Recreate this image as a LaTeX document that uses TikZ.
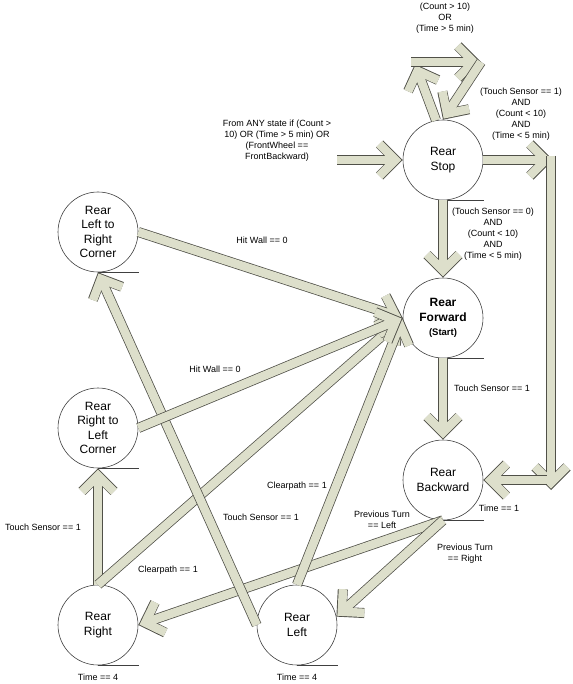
\documentclass[tikz,border=0pt]{standalone}
\usepackage{fontspec}
\setmainfont{Liberation Sans}
\usetikzlibrary{arrows.meta}
\definecolor{arrowfill}{RGB}{221,223,203}
\definecolor{arrowedge}{RGB}{80,80,72}

\begin{document}
\begin{tikzpicture}[x=1pt, y=-1pt, line cap=butt, line join=miter,
  state/.style={circle, draw=black!75, line width=0.6pt, minimum size=80pt, inner sep=0pt,
    align=center, font=\fontsize{12}{14.5}\selectfont},
  lbl/.style={align=center, font=\fontsize{9}{11}\selectfont, inner sep=1pt},
  fat/.style={draw=arrowfill, line width=8.5pt, shorten >=1.3pt,
    -{Straight Barb[length=16pt,width=32pt]},
    preaction={draw=arrowedge, line width=10pt, shorten >=0pt}},
  base/.style={draw=black!75, line width=0.6pt}]

\useasboundingbox (0,0) rectangle (572,684);

% States
\node[state] (stop) at (443,160) {Rear\\Stop};
\node[state, font=\fontsize{12}{14.5}\selectfont\bfseries] (fwd) at (443,318)
  {Rear\\Forward\\{\fontsize{9.5}{11}\selectfont(Start)}};
\node[state] (bkwd) at (443,480) {Rear\\Backward};
\node[state] (ltr) at (98,232) {Rear\\Left to\\Right\\Corner};
\node[state] (rtl) at (98,428) {Rear\\Right to\\Left\\Corner};
\node[state] (rright) at (98,625) {Rear\\Right};
\node[state] (rleft) at (297,625) {Rear\\Left};

% Lines under the states
\foreach \s in {stop,fwd,bkwd,ltr,rtl,rright,rleft}
  \draw[base] (\s.south) -- ++(41,0);

% Bend points
\coordinate (lp1) at (415,64);
\coordinate (lp2) at (481,62);
\coordinate (anyst) at (337,160);
\coordinate (r1) at (553,160);
\coordinate (r2) at (551,490);
\coordinate (r3) at (547,480);

% Self loop on Rear Stop
\draw[fat] (stop.100) -- (lp1);
\draw[fat] (411,62) -- (lp2);
\draw[fat] (lp2) -- (stop.north);
\node[lbl] (tloop) at (445,18) {(Count > 10)\\OR\\(Time > 5 min)};

% From any state
\draw[fat] (anyst) -- (stop.west);
\node[lbl] (tany) at (277,141) {From ANY state if (Count >\\10) OR (Time > 5 min) OR\\(FrontWheel ==\\FrontBackward)};

% Rear Stop out
\draw[fat] (stop.south) -- (fwd.north);
\node[lbl] (tgo) at (493,234) {(Touch Sensor == 0)\\AND\\(Count < 10)\\AND\\(Time < 5 min)};
\draw[fat] (stop.east) -- (r1);
\draw[fat] (551,156) -- (r2);
\draw[fat] (r3) -- (bkwd.east);
\node[lbl] (tback) at (521,114) {(Touch Sensor == 1)\\AND\\(Count < 10)\\AND\\(Time < 5 min)};

% Forward and backward
\draw[fat] (fwd.south) -- (bkwd.north);
\node[lbl] (tfb) at (492,388) {Touch Sensor == 1};
\node[lbl] (tb1) at (499,508) {Time == 1};
\draw[fat] (bkwd.south) -- (rright.east);
\draw[fat] (bkwd.south) -- (rleft.12);
\node[lbl] (tprl) at (382,520) {Previous Turn\\== Left};
\node[lbl] (tprr) at (465,554) {Previous Turn\\== Right};

% Turning states
\draw[fat] (rright.north) -- (rtl.south);
\node[lbl] (trr) at (43,527) {Touch Sensor == 1};
\draw[fat] (rright.north) -- (fwd.west);
\node[lbl] (tcr) at (168,570) {Clearpath == 1};
\node[lbl] (tr4) at (98,677) {Time == 4};
\draw[fat] (rleft.west) -- (ltr.south);
\node[lbl] (trl) at (261,517) {Touch Sensor == 1};
\draw[fat] (rleft.north) -- (fwd.west);
\node[lbl] (tcl) at (297,486) {Clearpath == 1};
\node[lbl] (tl4) at (297,677) {Time == 4};

% Corners back to forward
\draw[fat] (ltr.east) -- (fwd.west);
\node[lbl] (tw1) at (262,240) {Hit Wall == 0};
\draw[fat] (rtl.east) -- (fwd.west);
\node[lbl] (tw2) at (215,369) {Hit Wall == 0};

\end{tikzpicture}
\end{document}
